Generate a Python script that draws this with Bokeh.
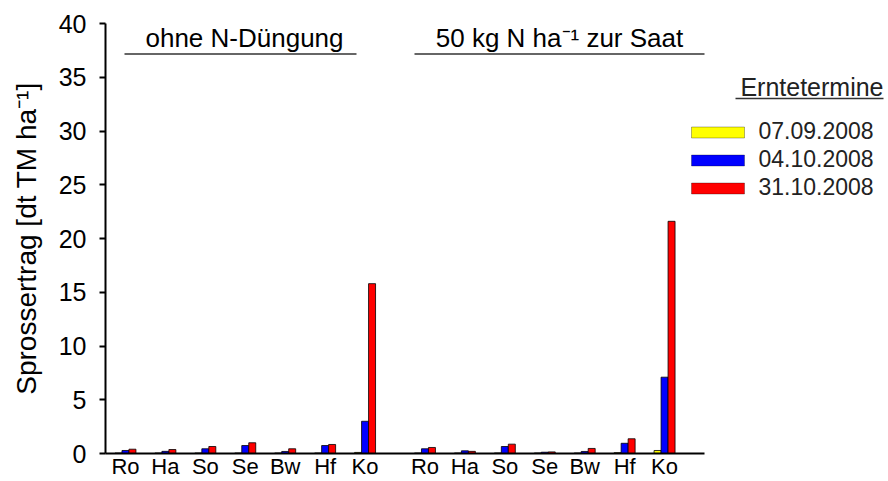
from bokeh.plotting import figure
from bokeh.models import (ColumnDataSource, Range1d, FixedTicker, Label, BoxAnnotation)
from bokeh.transform import dodge
from bokeh.embed import file_html
from bokeh.resources import INLINE

# ---------------- data ----------------
categories = ["Ro", "Ha", "So", "Se", "Bw", "Hf", "Ko"]
dates = ["07.09.2008", "04.10.2008", "31.10.2008"]
colors = ["#FFFF00", "#0000FF", "#FF0000"]

# ohne N-Düngung
ohne_0709 = [0.05, 0.05, 0.05, 0.05, 0.05, 0.05, 0.10]
ohne_0410 = [0.28, 0.20, 0.44, 0.74, 0.19, 0.74, 3.00]
ohne_3110 = [0.40, 0.37, 0.65, 1.00, 0.44, 0.84, 15.8]
# 50 kg N ha-1 zur Saat
mit_0709 = [0.05, 0.05, 0.05, 0.05, 0.05, 0.08, 0.28]
mit_0410 = [0.44, 0.25, 0.65, 0.12, 0.19, 0.95, 7.10]
mit_3110 = [0.56, 0.20, 0.87, 0.15, 0.47, 1.37, 21.6]

y_ticks = [0, 5, 10, 15, 20, 25, 30, 35, 40]
group_titles = ["ohne N-Düngung", "50 kg N ha\u207b\u00b9 zur Saat"]
y_title = "Sprossertrag [dt TM ha\u207b\u00b9]"
legend_title = "Erntetermine"

FONT = "Liberation Sans"

# ---------------- layout ----------------
W, H = 888, 481
FL, FT, FB = 105, 23, 453          # frame left / top / bottom (px)
SLOT = 599 / 15                    # px per category slot


def sx(px):  # canvas x -> frame-relative screen x
    return px - FL


def sy(py):  # canvas y -> frame-relative screen y (upwards)
    return FB - py


n = len(categories)
x1 = [i + 0.5 for i in range(n)]
x2 = [i + 8.0 for i in range(n)]
xs = x1 + x2

src = ColumnDataSource(dict(
    x=xs,
    cat=categories + categories,
    d0=ohne_0709 + mit_0709,
    d1=ohne_0410 + mit_0410,
    d2=ohne_3110 + mit_3110,
))

p = figure(width=W, height=H, output_backend="svg", toolbar_location=None,
           x_range=Range1d(0, (W - FL) / SLOT), y_range=Range1d(0, 40),
           min_border_left=FL, min_border_right=0,
           min_border_top=FT, min_border_bottom=H - FB)
p.outline_line_color = None
p.grid.visible = False
p.background_fill_color = "white"
p.border_fill_color = "white"

bw = 0.175
for k, (col, c) in enumerate(zip(["d0", "d1", "d2"], colors)):
    p.vbar(x=dodge("x", (k - 1) * bw, range=p.x_range), top=col, width=bw,
           source=src, fill_color=c, line_color="#000000", line_width=0.8)

# y axis
p.yaxis.ticker = FixedTicker(ticks=y_ticks)
p.yaxis.minor_tick_line_color = None
p.yaxis.major_tick_in = 0
p.yaxis.major_tick_out = 6
p.yaxis.major_tick_line_width = 2
p.yaxis.axis_line_width = 2
p.yaxis.major_label_standoff = 13
p.yaxis.major_label_text_font = FONT
p.yaxis.major_label_text_font_size = "25px"
p.yaxis.major_label_text_color = "black"
p.yaxis.axis_label = y_title
p.yaxis.axis_label_text_font = FONT
p.yaxis.axis_label_text_font_size = "28px"
p.yaxis.axis_label_text_font_style = "normal"
p.yaxis.axis_label_text_color = "black"
p.yaxis.axis_label_standoff = 14

# x axis: category labels, line limited to the 15 slots
p.xaxis.ticker = FixedTicker(ticks=xs)
p.xaxis.major_label_overrides = {x: c for x, c in zip(xs, categories + categories)}
p.xaxis.bounds = (0, 15)
p.xaxis.minor_tick_line_color = None
p.xaxis.major_tick_line_color = None
p.xaxis.major_tick_in = 0
p.xaxis.major_tick_out = 0
p.xaxis.axis_line_width = 2
p.xaxis.major_label_standoff = 0
p.xaxis.major_label_text_font = FONT
p.xaxis.major_label_text_font_size = "22px"
p.xaxis.major_label_text_color = "black"


def hline(x0, x1_, y, color="#333333", th=1.5):
    p.add_layout(BoxAnnotation(left=sx(x0), right=sx(x1_), top=sy(y - th / 2), bottom=sy(y + th / 2),
                               left_units="screen", right_units="screen",
                               top_units="screen", bottom_units="screen",
                               fill_color=color, fill_alpha=1, line_color=None))


def text(x, y, s, size, align="left", color="black"):
    p.add_layout(Label(x=sx(x), y=sy(y), x_units="screen", y_units="screen",
                       text=s, text_align=align, text_baseline="middle",
                       text_font=FONT, text_font_size=size, text_color=color))


# group titles with underlines
for title, cx, (ul, ur) in zip(group_titles, [244, 559], [(124, 356), (414, 704)]):
    text(cx, 37.5, title, "26px", align="center")
    hline(ul, ur, 53.5)

# legend
text(883, 86.5, legend_title, "25px", align="right", color="#222222")
hline(735, 883, 98)
for k, (d, c) in enumerate(zip(dates, colors)):
    cy = 132 + 28 * k
    p.add_layout(BoxAnnotation(left=sx(691), right=sx(744), top=sy(cy - 5.5), bottom=sy(cy + 5.5),
                               left_units="screen", right_units="screen",
                               top_units="screen", bottom_units="screen",
                               fill_color=c, fill_alpha=1, line_color="black", line_width=1))
    text(758, cy - 2, d, "23px", color="#222222")

open("out.html", "w").write(file_html(p, INLINE))
